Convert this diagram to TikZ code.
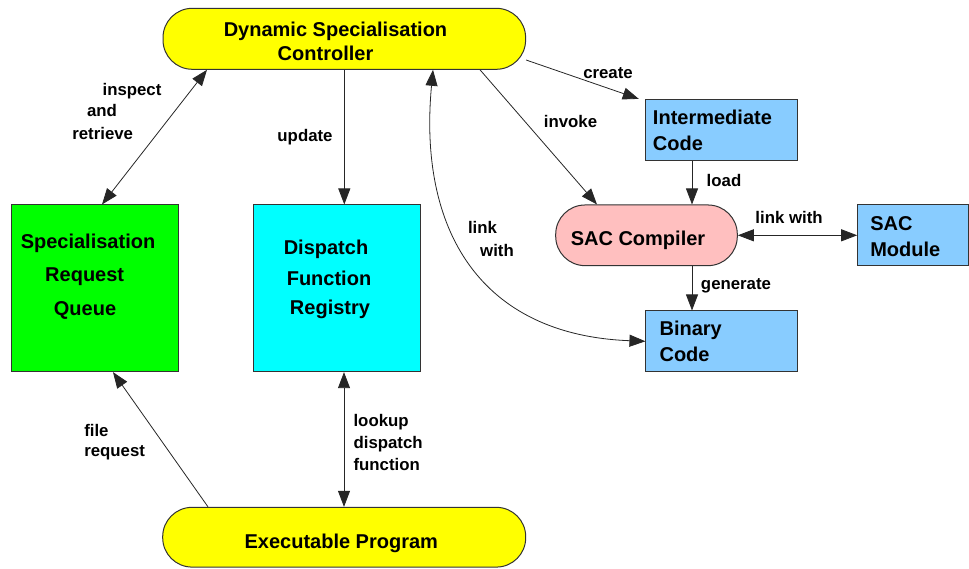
\documentclass[tikz,border=0pt]{standalone}
\usepackage{fontspec}
\setmainfont{Liberation Sans}
\usetikzlibrary{arrows.meta}
\definecolor{cyellow}{HTML}{FFFF00}
\definecolor{cgreen}{HTML}{00FF00}
\definecolor{ccyan}{HTML}{00FFFF}
\definecolor{cblue}{HTML}{88CCFF}
\definecolor{cpink}{HTML}{FFBFBF}
\definecolor{cline}{HTML}{333333}
\begin{document}
\begin{tikzpicture}[x=0.75pt,y=-0.75pt,
 box/.style={draw=cline, line width=0.75pt, inner sep=0pt},
 pill/.style={box, rounded corners=22pt},
 ntext/.style={font=\fontsize{15}{18}\selectfont\bfseries, inner sep=0pt},
 ltext/.style={font=\fontsize{12.6}{15}\selectfont\bfseries, inner sep=0pt},
 conn/.style={draw=black!85, line width=0.6pt, -{Triangle[length=12pt,width=9pt]}},
 bconn/.style={conn, {Triangle[length=12pt,width=9pt]}-{Triangle[length=12pt,width=9pt]}},
]
\useasboundingbox (0,0) rectangle (969,568);
% shapes
\node[pill, fill=cyellow, minimum width=271.95pt, minimum height=45.75pt] (ctrl) at (344.3,38.8) {};
\node[pill, fill=cyellow, minimum width=272.25pt, minimum height=44.8pt] (exe) at (344.2,537.2) {};
\node[box, fill=cgreen, minimum width=125pt, minimum height=125pt] (queue) at (94.7,288.3) {};
\node[box, fill=ccyan, minimum width=125.25pt, minimum height=125pt] (reg) at (336.5,288.3) {};
\node[box, fill=cblue, minimum width=113.8pt, minimum height=45.5pt] (int) at (721.8,129.7) {};
\node[pill, fill=cpink, minimum width=136.2pt, minimum height=45.5pt] (sac) at (646.5,235.3) {};
\node[box, fill=cblue, minimum width=83.1pt, minimum height=45.5pt] (mod) at (913.1,235.3) {};
\node[box, fill=cblue, minimum width=113.8pt, minimum height=45.5pt] (bin) at (721.8,341.3) {};
% node texts
\node[ntext, anchor=base] (t1) at (335.5,36) {Dynamic Specialisation};
\node[ntext, anchor=base] (t2) at (325.5,60) {Controller};
\node[ntext, anchor=base] (t3) at (88,248.3) {Specialisation};
\node[ntext, anchor=base] (t4) at (84.7,281.7) {Request};
\node[ntext, anchor=base] (t5) at (85,315) {Queue};
\node[ntext, anchor=base] (t6) at (326,254.3) {Dispatch};
\node[ntext, anchor=base] (t7) at (329,285) {Function};
\node[ntext, anchor=base] (t8) at (330,314.3) {Registry};
\node[ntext, anchor=base west] (t9) at (652.7,124.3) {Intermediate};
\node[ntext, anchor=base west] (t10) at (652.7,150.7) {Code};
\node[ntext, anchor=base] (t11) at (638,245.7) {SAC Compiler};
\node[ntext, anchor=base west] (t12) at (870,230) {SAC};
\node[ntext, anchor=base west] (t13) at (870,256.7) {Module};
\node[ntext, anchor=base west] (t14) at (659.3,335) {Binary};
\node[ntext, anchor=base west] (t15) at (659.3,361.7) {Code};
\node[ntext, anchor=base] (t16) at (341.3,548.3) {Executable Program};
% labels
\node[ltext, anchor=base] (l1) at (132,95.3) {inspect};
\node[ltext, anchor=base] (l2) at (102,116.7) {and};
\node[ltext, anchor=base] (l3) at (102.7,139.3) {retrieve};
\node[ltext, anchor=base] (l4) at (305,141.5) {update};
\node[ltext, anchor=base] (l5) at (608,78.3) {create};
\node[ltext, anchor=base] (l6) at (570.5,127.3) {invoke};
\node[ltext, anchor=base] (l7) at (482.5,233.3) {link};
\node[ltext, anchor=base] (l8) at (497,256.7) {with};
\node[ltext, anchor=base] (l9) at (724,186.7) {load};
\node[ltext, anchor=base] (l10) at (789,223.3) {link with};
\node[ltext, anchor=base] (l11) at (736,289.3) {generate};
\node[ltext, anchor=base west] (l12) at (84,436.7) {file};
\node[ltext, anchor=base west] (l13) at (84,456) {request};
\node[ltext, anchor=base west] (l14) at (353.3,426.7) {lookup};
\node[ltext, anchor=base west] (l15) at (353.3,448.3) {dispatch};
\node[ltext, anchor=base west] (l16) at (353.3,470) {function};
% connectors
\draw[bconn] (207,0 |- ctrl.south) -- (102,0 |- queue.north);
\draw[conn] (ctrl.south) -- (ctrl.south |- reg.north);
\draw[bconn] (433,0 |- ctrl.south) .. controls (418,230) and (480,335) .. (bin.west);
\draw[conn] (480,0 |- ctrl.south) -- (597,0 |- sac.north);
\draw[conn] ([yshift=-15.9pt]ctrl.east) -- ([xshift=-5pt]int.north west);
\draw[conn] (692,0 |- int.south) -- (692,0 |- sac.north);
\draw[bconn] (sac.east) -- (mod.west);
\draw[conn] (692,0 |- sac.south) -- (692,0 |- bin.north);
\draw[conn] (208,0 |- exe.north) -- (113,0 |- queue.south);
\draw[bconn] (344,0 |- reg.south) -- (344,0 |- exe.north);
\end{tikzpicture}
\end{document}
